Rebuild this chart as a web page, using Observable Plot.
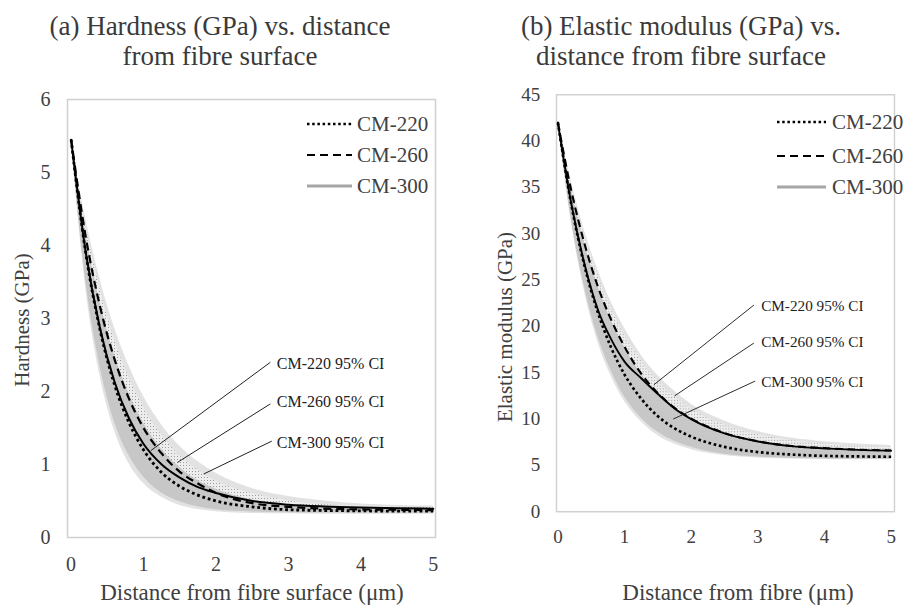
<!DOCTYPE html>
<html><head><meta charset="utf-8">
<script src="https://cdn.jsdelivr.net/npm/d3@7"></script>
<script src="https://cdn.jsdelivr.net/npm/@observablehq/plot@0.6"></script>
<style>
html,body{margin:0;padding:0;background:#fff;}
body{width:914px;height:605px;overflow:hidden;position:relative;font-family:"Liberation Serif","Times New Roman",Times,serif;color:#404040;}
.abs{position:absolute;white-space:nowrap;}
.title{font-size:27px;line-height:30px;text-align:center;color:#3a3a3a;}
.axl{font-size:23px;line-height:26px;text-align:center;color:#404040;}
.ayl{font-size:21px;line-height:24px;text-align:center;color:#404040;}
.leg{font-size:21px;line-height:24px;color:#404040;}
</style></head><body>
<svg width="0" height="0" style="position:absolute;left:0;top:0"><defs>
<pattern id="stip" width="3" height="3" patternUnits="userSpaceOnUse"><rect width="3" height="3" fill="#ededed"/><rect width="1" height="1" fill="#9a9a9a"/></pattern>
</defs></svg>
<div id="pa" class="abs" style="left:0;top:0"></div>
<div id="pb" class="abs" style="left:457px;top:0"></div>
<div class="abs title" style="left:0;top:11px;width:440px">(a) Hardness (GPa) vs. distance<br>from fibre surface</div>
<div class="abs title" style="left:461px;top:11px;width:440px">(b) Elastic modulus (GPa) vs.<br>distance from fibre surface</div>
<div class="abs axl" style="left:52px;top:580px;width:400px">Distance from fibre surface (μm)</div>
<div class="abs axl" style="left:538px;top:580px;width:400px">Distance from fibre (μm)</div>
<div class="abs ayl" style="left:-128px;top:308px;width:300px;transform:rotate(-90deg)">Hardness (GPa)</div>
<div class="abs ayl" style="left:355px;top:315px;width:300px;transform:rotate(-90deg)">Elastic modulus (GPa)</div>
<div id="legends"></div>
<script>
// ---- data ----
const xs = [0, 0.2, 0.4, 0.6, 0.8, 1, 1.25, 1.5, 1.75, 2, 2.5, 3, 3.5, 4, 4.5, 5];
const xTicks = [0, 1, 2, 3, 4, 5];
const yTicksA = [0, 1, 2, 3, 4, 5, 6];
const yTicksB = [0, 5, 10, 15, 20, 25, 30, 35, 40, 45];
const seriesNames = ["CM-220", "CM-260", "CM-300"];
const ciNames = ["CM-220 95% CI", "CM-260 95% CI", "CM-300 95% CI"];

// (a) Hardness (GPa)
const hard220 = [5.45, 3.91, 2.84, 2.09, 1.57, 1.20, 0.89, 0.70, 0.58, 0.50, 0.42, 0.38, 0.37, 0.365, 0.36, 0.36];
const hard260 = [5.45, 4.13, 3.16, 2.44, 1.90, 1.50, 1.15, 0.90, 0.74, 0.61, 0.47, 0.42, 0.395, 0.385, 0.38, 0.375];
const hard300 = [5.45, 3.92, 2.86, 2.13, 1.63, 1.28, 1.00, 0.82, 0.69, 0.61, 0.50, 0.45, 0.425, 0.41, 0.40, 0.395];
const hardCI220lo = [5.45, 3.53, 2.34, 1.58, 1.12, 0.83, 0.61, 0.49, 0.42, 0.38, 0.35, 0.34, 0.335, 0.335, 0.335, 0.335];
const hardCI220hi = [5.45, 4.17, 3.22, 2.50, 1.97, 1.57, 1.21, 0.96, 0.78, 0.66, 0.515, 0.445, 0.41, 0.395, 0.385, 0.38];
const hardCI260lo = [5.45, 3.85, 2.75, 2.00, 1.49, 1.14, 0.85, 0.67, 0.56, 0.49, 0.42, 0.39, 0.38, 0.375, 0.375, 0.375];
const hardCI260hi = [5.45, 4.29, 3.40, 2.71, 2.18, 1.78, 1.40, 1.12, 0.92, 0.77, 0.60, 0.50, 0.45, 0.43, 0.415, 0.41];
const hardCI300lo = [5.45, 3.43, 2.21, 1.46, 1.01, 0.74, 0.55, 0.44, 0.385, 0.354, 0.33, 0.325, 0.32, 0.32, 0.32, 0.32];
const hardCI300hi = [5.45, 4.38, 3.53, 2.87, 2.35, 1.93, 1.54, 1.25, 1.04, 0.88, 0.67, 0.56, 0.50, 0.46, 0.44, 0.43];
// annotation leader lines (a): label point -> band point
const hardLabX = [2.84, 2.84, 2.84];
const hardLabY = [2.38, 1.86, 1.29];
const hardLeadX1 = [2.75, 2.75, 2.77];
const hardLeadY1 = [2.40, 1.83, 1.32];
const hardLeadX2 = [1.10, 1.47, 1.83];
const hardLeadY2 = [1.19, 1.03, 0.87];

// (b) Elastic modulus (GPa)
const mod220 = [42, 33.2, 26.5, 21.5, 17.7, 14.8, 12.2, 10.3, 9.0, 8.1, 7.0, 6.44, 6.17, 6.03, 5.97, 5.93];
const mod260 = [42, 34.7, 28.9, 24.3, 20.7, 17.8, 14.9, 12.8, 11.2, 10.05, 8.5, 7.6, 7.1, 6.86, 6.70, 6.61];
const mod300 = [42, 33.3, 26.7, 21.8, 18.6, 16.2, 14.4, 12.7, 11.15, 10.0, 8.45, 7.58, 7.08, 6.84, 6.68, 6.59];
const modCI220lo = [42, 31.6, 24.2, 18.9, 15.2, 12.4, 10.1, 8.6, 7.6, 6.95, 6.2, 5.9, 5.76, 5.7, 5.67, 5.65];
const modCI220hi = [42, 34.7, 28.9, 24.3, 20.6, 17.7, 14.9, 12.7, 11.2, 10.0, 8.4, 7.5, 7.04, 6.76, 6.6, 6.51];
const modCI260lo = [42, 33.8, 27.5, 22.6, 18.8, 16.0, 13.3, 11.3, 9.9, 8.85, 7.6, 6.9, 6.6, 6.4, 6.3, 6.25];
const modCI260hi = [42, 35.3, 29.9, 25.6, 22.0, 19.1, 16.3, 14.1, 12.4, 11.1, 9.35, 8.3, 7.7, 7.33, 7.1, 6.98];
const modCI300lo = [42, 31.3, 23.7, 18.3, 14.6, 11.9, 9.7, 8.2, 7.3, 6.7, 6.06, 5.8, 5.7, 5.65, 5.6, 5.6];
const modCI300hi = [42, 35.6, 30.3, 26.1, 22.6, 19.8, 16.9, 14.7, 13.0, 11.6, 9.8, 8.65, 7.95, 7.55, 7.3, 7.15];
const modLabX = [3.05, 3.05, 3.05];
const modLabY = [22.2, 18.3, 14.0];
const modLeadX1 = [2.94, 2.94, 2.96];
const modLeadY1 = [22.3, 18.2, 14.1];
const modLeadX2 = [1.44, 1.75, 1.73];
const modLeadY2 = [13.7, 12.5, 10.0];

// ---- helpers ----
const band = (lo, hi) => xs.map((x, i) => ({x, lo: lo[i], hi: hi[i]}));
const line = (ys) => xs.map((x, i) => ({x, y: ys[i]}));
const leaders = (x1, y1, x2, y2) => x1.map((v, i) => ({x1: v, y1: y1[i], x2: x2[i], y2: y2[i]}));
const labels = (lx, ly) => lx.map((v, i) => ({x: v, y: ly[i], t: ciNames[i]}));

function panel(cfg) {
  return Plot.plot({
    width: cfg.width, height: 605,
    marginLeft: cfg.ml, marginRight: cfg.mr, marginTop: 99, marginBottom: 68,
    x: {domain: cfg.xdom, ticks: xTicks, tickSize: 0, tickPadding: 19, label: null, tickFormat: d => String(d)},
    y: {domain: cfg.ydom, ticks: cfg.yticks, tickSize: 0, tickPadding: 17, label: null, tickFormat: d => String(d)},
    style: {fontFamily: "'Liberation Serif', 'Times New Roman', serif", fontSize: "20px", color: "#404040", background: "transparent", overflow: "visible"},
    marks: [
      Plot.frame({stroke: "#d0d0d0", strokeWidth: 1.5}),
      Plot.areaY(band(cfg.c300lo, cfg.c300hi), {x: "x", y1: "lo", y2: "hi", fill: "#e2e2e2", curve: "monotone-x"}),
      Plot.areaY(band(cfg.c260lo, cfg.c260hi), {x: "x", y1: "lo", y2: "hi", fill: "url(#stip)", curve: "monotone-x"}),
      Plot.areaY(band(cfg.c220lo, cfg.c220hi), {x: "x", y1: "lo", y2: "hi", fill: "#c4c4c4", fillOpacity: 0.9, curve: "monotone-x"}),
      Plot.line(line(cfg.s300), {x: "x", y: "y", stroke: "#000", strokeWidth: 2, curve: "monotone-x"}),
      Plot.line(line(cfg.s260), {x: "x", y: "y", stroke: "#000", strokeWidth: 2.2, strokeDasharray: "8 5", strokeLinecap: "butt", curve: "monotone-x"}),
      Plot.line(line(cfg.s220), {x: "x", y: "y", stroke: "#000", strokeWidth: 2.8, strokeDasharray: "2.8 2.8", strokeLinecap: "butt", curve: "monotone-x"}),
      Plot.link(leaders(cfg.lx1, cfg.ly1, cfg.lx2, cfg.ly2), {x1: "x1", y1: "y1", x2: "x2", y2: "y2", stroke: "#222", strokeWidth: 1}),
      Plot.text(labels(cfg.labx, cfg.laby), {x: "x", y: "y", text: "t", textAnchor: "start", fontSize: 16, fill: "#222"})
    ]
  });
}

document.getElementById("pa").append(panel({
  width: 457, ml: 67, mr: 22, xdom: [-0.05, 5.03], ydom: [0, 6], yticks: yTicksA,
  s220: hard220, s260: hard260, s300: hard300,
  c220lo: hardCI220lo, c220hi: hardCI220hi, c260lo: hardCI260lo, c260hi: hardCI260hi, c300lo: hardCI300lo, c300hi: hardCI300hi,
  lx1: hardLeadX1, ly1: hardLeadY1, lx2: hardLeadX2, ly2: hardLeadY2, labx: hardLabX, laby: hardLabY
}));
document.getElementById("pb").append(panel({
  width: 480, ml: 104, mr: 21, xdom: [-0.021, 5.05], ydom: [0, 45], yticks: yTicksB,
  s220: mod220, s260: mod260, s300: mod300,
  c220lo: modCI220lo, c220hi: modCI220hi, c260lo: modCI260lo, c260hi: modCI260hi, c300lo: modCI300lo, c300hi: modCI300hi,
  lx1: modLeadX1, ly1: modLeadY1, lx2: modLeadX2, ly2: modLeadY2, labx: modLabX, laby: modLabY
}));

// ---- legends ----
const swatchStyles = [
  {stroke: "#000", w: 2.5, dash: "2.5 2.7"},
  {stroke: "#000", w: 2.2, dash: "8 5"},
  {stroke: "#a6a6a6", w: 3, dash: null}
];
const legendPos = [
  {sx: 307, sw: 45, tx: 357, ys: [124, 155, 186]},
  {sx: 777, sw: 49, tx: 832, ys: [122, 156, 187]}
];
const legDiv = document.getElementById("legends");
legendPos.forEach(p => {
  seriesNames.forEach((name, i) => {
    const s = swatchStyles[i];
    const svg = d3.create("svg").attr("width", p.sw).attr("height", 10)
      .style("position", "absolute").style("left", p.sx + "px").style("top", (p.ys[i] - 5) + "px");
    svg.append("line").attr("x1", 0).attr("x2", p.sw).attr("y1", 5).attr("y2", 5)
      .attr("stroke", s.stroke).attr("stroke-width", s.w).attr("stroke-dasharray", s.dash);
    legDiv.append(svg.node());
    const t = document.createElement("div");
    t.className = "abs leg";
    t.style.left = p.tx + "px";
    t.style.top = (p.ys[i] - 12) + "px";
    t.textContent = name;
    legDiv.append(t);
  });
});
</script>
</body></html>
